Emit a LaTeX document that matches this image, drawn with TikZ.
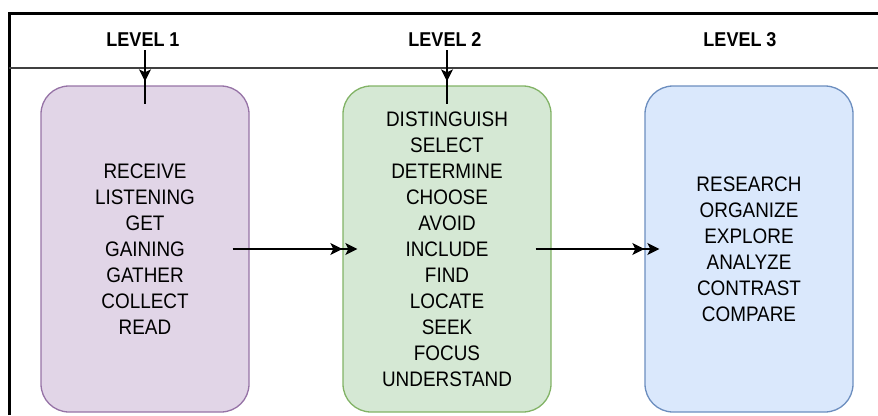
\documentclass[tikz,border=0pt]{standalone}
\usepackage{fontspec}
\setmainfont{Liberation Sans}
\newfontfamily\condfont{Liberation Sans}[FakeStretch=0.9]
\usetikzlibrary{arrows.meta,calc}
\definecolor{purpfill}{HTML}{E1D5E7}
\definecolor{purpline}{HTML}{9673A6}
\definecolor{greenfill}{HTML}{D5E8D4}
\definecolor{greenline}{HTML}{82B366}
\definecolor{bluefill}{HTML}{DAE8FC}
\definecolor{blueline}{HTML}{6C8EBF}
\begin{document}
\begin{tikzpicture}[x=1pt,y=-1pt,
  levelbox/.style={draw, line width=1.3pt, rounded corners=28pt,
    minimum width=208pt, minimum height=326pt, inner sep=0pt,
    align=center, font=\condfont\fontsize{21}{26}\selectfont},
  header/.style={font=\condfont\bfseries\fontsize{20}{22}\selectfont, inner sep=0pt},
  onetip/.style={-{Stealth[length=12pt,width=12pt,inset=3pt]}, line width=1.6pt},
  twotips/.style={-{Stealth[length=12pt,width=12pt,inset=3pt,sep=3pt]Stealth[length=12pt,width=12pt,inset=3pt]}, line width=1.6pt},
  plainline/.style={line width=1.6pt}
]
\useasboundingbox (0,0) rectangle (878,415);

% frame of the table
\draw[line width=3pt] (9,415) -- (9,13) -- (878,13);
\draw[line width=1.4pt, black!75] (9,68) -- (878,68);

% column headers
\node[header] (h1) at (143,40) {LEVEL 1};
\node[header] (h2) at (445,40) {LEVEL 2};
\node[header] (h3) at (740,40) {LEVEL 3};

% level boxes
\node[levelbox, fill=purpfill, draw=purpline] (b1) at (145,249)
  {RECEIVE\\LISTENING\\GET\\GAINING\\GATHER\\COLLECT\\READ};
\node[levelbox, fill=greenfill, draw=greenline] (b2) at (447,249)
  {DISTINGUISH\\SELECT\\DETERMINE\\CHOOSE\\AVOID\\INCLUDE\\FIND\\LOCATE\\SEEK\\FOCUS\\UNDERSTAND};
\node[levelbox, fill=bluefill, draw=blueline] (b3) at (749,249)
  {RESEARCH\\ORGANIZE\\EXPLORE\\ANALYZE\\CONTRAST\\COMPARE};

% header-to-box connectors
\coordinate (s1) at (b1.north |- 0,50);
\coordinate (s2) at (b2.north |- 0,50);
\coordinate (d1) at ($(b1.north)+(0,19)$);
\coordinate (d2) at ($(b2.north)+(0,19)$);
\coordinate (t1) at ($(b1.north)+(0,-4)$);
\coordinate (t2) at ($(b2.north)+(0,-4)$);
\draw[plainline] (s1) -- (d1);
\draw[onetip] (s1) -- (t1);
\draw[plainline] (s2) -- (d2);
\draw[onetip] (s2) -- (t2);

% box-to-box connectors
\draw[twotips] ($(b1.east)+(-17,0)$) -- ($(b2.west)+(15,0)$);
\draw[twotips] ($(b2.east)+(-16,0)$) -- ($(b3.west)+(15,0)$);
\end{tikzpicture}
\end{document}
